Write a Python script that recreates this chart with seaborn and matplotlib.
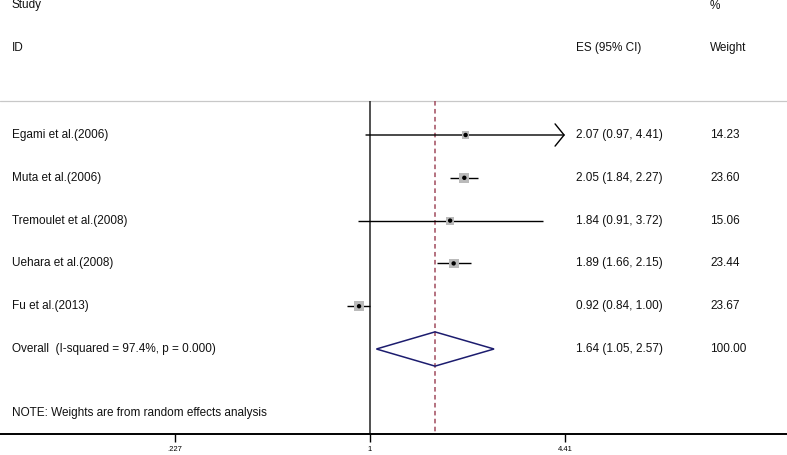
import numpy as np
import pandas as pd
import seaborn as sns
import matplotlib.pyplot as plt
import matplotlib.transforms as mtransforms

# study data
studies = ['Egami et al.(2006)', 'Muta et al.(2006)', 'Tremoulet et al.(2008)',
           'Uehara et al.(2008)', 'Fu et al.(2013)']
es = [2.07, 2.05, 1.84, 1.89, 0.92]
ci_lo = [0.97, 1.84, 0.91, 1.66, 0.84]
ci_hi = [4.41, 2.27, 3.72, 2.15, 1.00]
weights = [14.23, 23.60, 15.06, 23.44, 23.67]

# pooled estimate
overall_label = 'Overall  (I-squared = 97.4%, p = 0.000)'
overall_es, overall_lo, overall_hi = 1.64, 1.05, 2.57
overall_weight = 100.00

xticks = [0.227, 1, 4.41]
xtick_labels = ['.227', '1', '4.41']

sns.set_style('white')
plt.rcParams['font.family'] = ['Liberation Sans', 'DejaVu Sans']

df = pd.DataFrame({'study': studies, 'es': es, 'lo': ci_lo, 'hi': ci_hi, 'weight': weights})
df['row'] = np.arange(len(df))
overall_row = len(df)

fig = plt.figure(figsize=(7.87, 4.55), dpi=100)
ax = fig.add_axes([0, 21 / 455, 1, 434 / 455])

# log x axis, 131.4 px per ln unit, x=1 sits at 370 px
px_per_ln = 131.4
ax.set_xscale('log')
ax.set_xlim(np.exp(-370 / px_per_ln), np.exp(417 / px_per_ln))
row_px = 42.8
ax.set_ylim(434 / row_px - 135 / row_px, -135 / row_px)

top_line = -0.79
ax.axhline(top_line, color='#c8c8c8', lw=0.9)

# reference lines
ax.vlines(1, top_line, ax.get_ylim()[0], color='#222222', lw=1.1)
ax.vlines(overall_es, top_line, ax.get_ylim()[0], color='#a04a5c', lw=1.1,
          linestyles=(0, (3, 2.2)))

# confidence intervals
xmax_tick = max(xticks)
for _, r in df.iterrows():
    if r['hi'] >= xmax_tick:
        ax.annotate('', xy=(xmax_tick, r['row']), xytext=(r['lo'], r['row']),
                    arrowprops=dict(arrowstyle='->,head_length=0.65,head_width=0.8',
                                    color='black', lw=1.0, shrinkA=0, shrinkB=0,
                                    mutation_scale=10))
    else:
        ax.hlines(r['row'], r['lo'], r['hi'], color='black', lw=1.0)

# weight boxes and point estimates
sns.scatterplot(data=df, x='es', y='row', size='weight', sizes=(30, 50),
                marker='s', color='#bababa', edgecolor='none', legend=False, ax=ax, zorder=3)
sns.scatterplot(data=df, x='es', y='row', s=10, color='black', edgecolor='none',
                legend=False, ax=ax, zorder=4)

# pooled diamond
h = 0.4
ax.fill([overall_lo, overall_es, overall_hi, overall_es],
        [overall_row, overall_row - h, overall_row, overall_row + h],
        facecolor='none', edgecolor='#1c1c6e', lw=1.1, zorder=3)

# text columns
trans = mtransforms.blended_transform_factory(ax.transAxes, ax.transData)
fs = 8.5
tc = '#111111'
x_lab, x_es, x_w = 12 / 787, 576 / 787, 710 / 787
ax.text(x_lab, -3.04, 'Study', transform=trans, va='center', fontsize=fs, color=tc)
ax.text(x_lab, -2.03, 'ID', transform=trans, va='center', fontsize=fs, color=tc)
ax.text(x_es, -2.03, 'ES (95% CI)', transform=trans, va='center', fontsize=fs, color=tc)
ax.text(x_w, -3.02, '%', transform=trans, va='center', fontsize=fs, color=tc)
ax.text(x_w, -2.03, 'Weight', transform=trans, va='center', fontsize=fs, color=tc)

for _, r in df.iterrows():
    ax.text(x_lab, r['row'], r['study'], transform=trans, va='center', fontsize=fs, color=tc)
    ax.text(x_es, r['row'], f"{r['es']:.2f} ({r['lo']:.2f}, {r['hi']:.2f})",
            transform=trans, va='center', fontsize=fs, color=tc)
    ax.text(x_w, r['row'], f"{r['weight']:.2f}", transform=trans, va='center',
            fontsize=fs, color=tc)

ax.text(x_lab, overall_row, overall_label, transform=trans, va='center', fontsize=fs, color=tc)
ax.text(x_es, overall_row, f'{overall_es:.2f} ({overall_lo:.2f}, {overall_hi:.2f})',
        transform=trans, va='center', fontsize=fs, color=tc)
ax.text(x_w, overall_row, f'{overall_weight:.2f}', transform=trans, va='center',
        fontsize=fs, color=tc)
ax.text(x_lab, 6.5, 'NOTE: Weights are from random effects analysis', transform=trans,
        va='center', fontsize=fs, color=tc)

# axis styling
for side in ['top', 'left', 'right']:
    ax.spines[side].set_visible(False)
ax.spines['bottom'].set_color('black')
ax.spines['bottom'].set_linewidth(1.4)
ax.set_xticks(xticks)
ax.set_xticklabels(xtick_labels)
ax.minorticks_off()
ax.tick_params(axis='x', direction='out', length=5.8, width=1.0, pad=2.5,
               labelsize=5.5, colors='black', bottom=True)
ax.set_yticks([])
ax.set_xlabel('')
ax.set_ylabel('')

fig.savefig('out.png', dpi=100)
